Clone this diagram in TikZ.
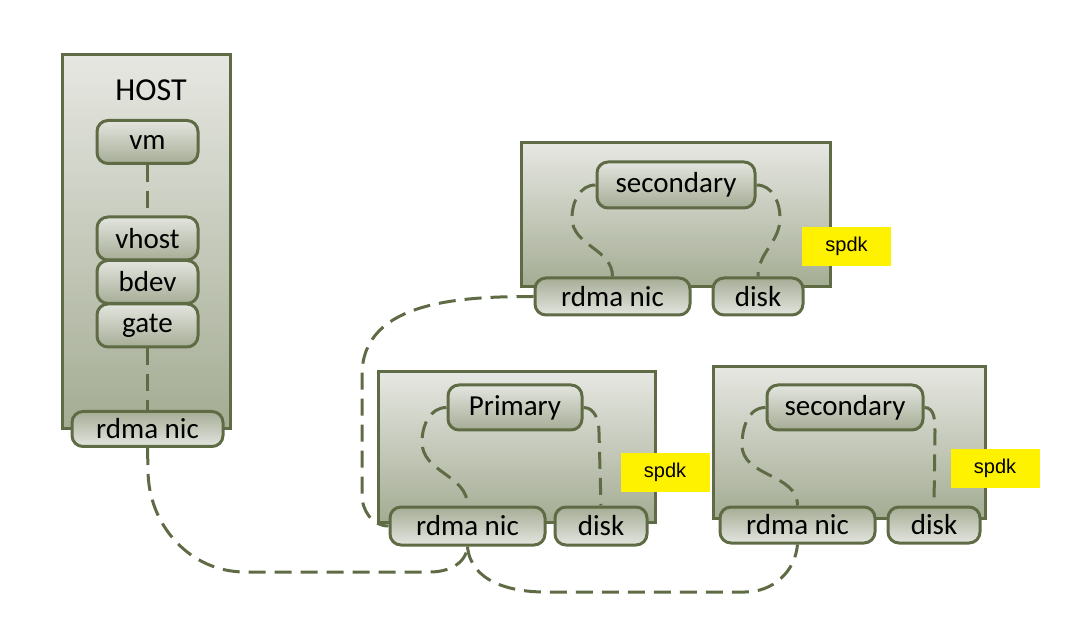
\documentclass[tikz,border=0pt]{standalone}
\usepackage{fontspec}
\setmainfont{Carlito}
\newfontfamily\spdkfont{Liberation Sans}
\definecolor{olv}{HTML}{5F6B45}
\definecolor{boxtop}{HTML}{E6E7E2}
\definecolor{boxbot}{HTML}{A4AC93}
\definecolor{modlight}{HTML}{E3E5DF}
\definecolor{moddark}{HTML}{A6AD96}
\begin{document}
\begin{tikzpicture}[x=1pt,y=-1pt,
  bigbox/.style={draw=olv, line width=3pt, top color=boxtop, bottom color=boxbot, minimum width=#1},
  modbox/.style={draw=olv, line width=3pt, rounded corners=11pt, top color=modlight, bottom color=moddark, font=\fontsize{29}{30}\selectfont, inner sep=0pt},
  portbox/.style={draw=olv, line width=3pt, rounded corners=11pt, top color=moddark, bottom color=modlight, font=\fontsize{29}{30}\selectfont, inner sep=0pt},
  spdkbox/.style={fill=yellow, font=\spdkfont\fontsize{20}{22}\selectfont, minimum width=89pt, minimum height=39pt, inner sep=0pt},
  link/.style={draw=olv, line width=3pt, dash pattern=on 17pt off 9pt}]
\useasboundingbox (0,0) rectangle (1080,644);
% containers
\node[bigbox=168pt, minimum height=374pt] (hostbox) at (146,242) {};
\node[bigbox=309pt, minimum height=144pt] (topbox) at (675.5,215) {};
\node[bigbox=277pt, minimum height=150pt] (primbox) at (516.5,447) {};
\node[bigbox=272pt, minimum height=151pt] (rightbox) at (849,442.5) {};
% HOST content
\node[font=\fontsize{32}{34}\selectfont] (hosttitle) at (151,90) {HOST};
\node[modbox, minimum width=101pt, minimum height=43pt] (vm) at (147.5,142) {vm};
\node[modbox, minimum width=101pt, minimum height=43pt] (vhost) at (147.5,238.5) {vhost};
\node[modbox, minimum width=101pt, minimum height=43pt] (bdev) at (147.5,282) {bdev};
\node[modbox, minimum width=101pt, minimum height=43pt] (gate) at (147.5,325.5) {gate};
\node[portbox, minimum width=151pt, minimum height=35pt] (hnic) at (147.5,429) {rdma nic};
% top secondary
\node[modbox, minimum width=158pt, minimum height=46pt] (tsec) at (676,185) {secondary};
\node[portbox, minimum width=155pt, minimum height=37pt] (tnic) at (612.5,296.5) {rdma nic};
\node[portbox, minimum width=90pt, minimum height=37pt] (tdisk) at (758,296.5) {disk};
\node[spdkbox] (tspdk) at (846.5,246.5) {spdk};
% primary
\node[modbox, minimum width=134pt, minimum height=45pt] (psec) at (515,407.5) {Primary};
\node[portbox, minimum width=155pt, minimum height=38pt] (pnic) at (467.5,526) {rdma nic};
\node[portbox, minimum width=92pt, minimum height=38pt] (pdisk) at (601,526) {disk};
\node[spdkbox] (pspdk) at (665,472.5) {spdk};
% right secondary
\node[modbox, minimum width=156pt, minimum height=45pt] (rsec) at (845,407.5) {secondary};
\node[portbox, minimum width=155pt, minimum height=36pt] (rnic) at (797.5,525) {rdma nic};
\node[portbox, minimum width=92pt, minimum height=36pt] (rdisk) at (934,525) {disk};
\node[spdkbox] (rspdk) at (995,468.5) {spdk};
% HOST internal links
\draw[link] (vm.south) -- (vhost.north);
\draw[link] (gate.south) -- (hnic.north);
% internal curves
\draw[link] (tsec.west) to[out=180,in=90] (572,218) to[out=-90,in=90] (tnic.north);
\draw[link] (tsec.east) to[out=0,in=90] (780,218) to[out=-90,in=90] (tdisk.north);
\draw[link] (psec.west) to[out=180,in=90] (422,442) to[out=-90,in=90] (pnic.north);
\draw[link] (psec.east) to[out=0,in=90] (599,432) -- (pdisk.north);
\draw[link] (rsec.west) to[out=180,in=90] (742,445) to[out=-90,in=90] (rnic.north);
\draw[link] (rsec.east) to[out=0,in=90] (935,432) -- (rdisk.north);
% long links
\draw[link] (hnic.south) -- (148,470) to[out=-90,in=180] (245,572) -- (430,572) to[out=0,in=-95] (pnic.south);
\draw[link] (pnic.south) to[out=-85,in=180] (545,592) -- (745,592) to[out=0,in=-95] (rnic.south);
\draw[link] (tnic.west) to[out=180,in=90] (362,375) -- (362,495) to[out=-90,in=180] (pnic.west);
\end{tikzpicture}
\end{document}
